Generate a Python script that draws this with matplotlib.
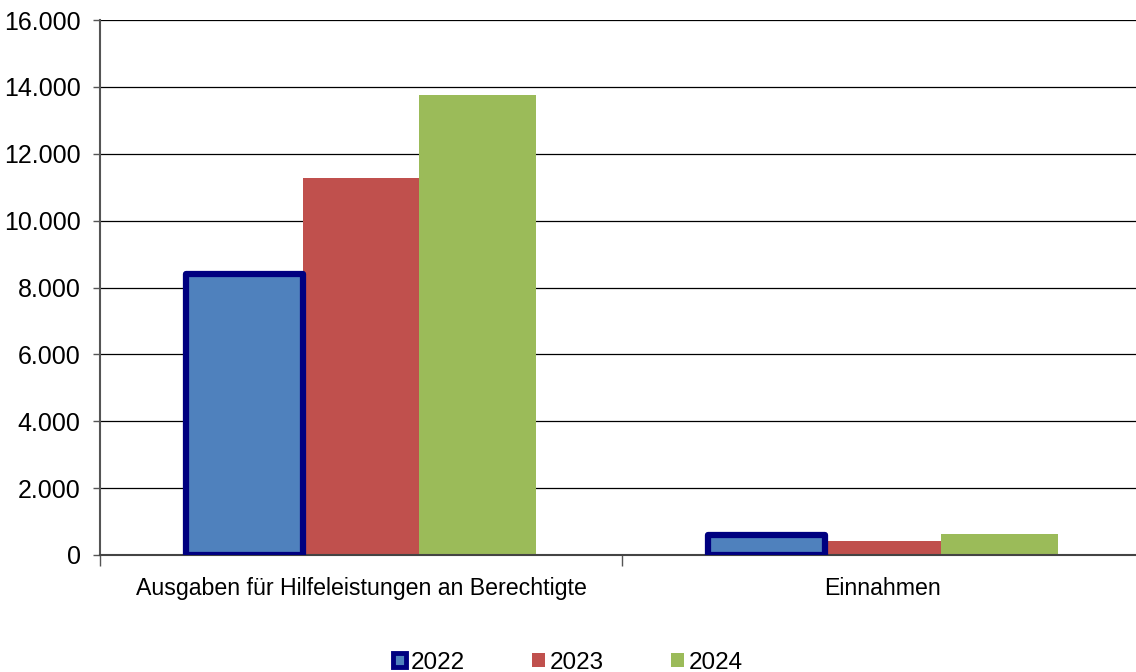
import matplotlib
matplotlib.use("Agg")
import matplotlib.pyplot as plt
import numpy as np
from matplotlib.patches import Patch
from matplotlib.ticker import FuncFormatter

categories = ["Ausgaben für Hilfeleistungen an Berechtigte", "Einnahmen"]
series_names = ["2022", "2023", "2024"]
values_2022 = [8400, 600]
values_2023 = [11260, 420]
values_2024 = [13760, 620]
yticks = [0, 2000, 4000, 6000, 8000, 10000, 12000, 14000, 16000]

colors = ["#4F81BD", "#C0504D", "#9BBB59"]
edge_2022 = "#000080"

plt.rcParams['font.family'] = ['Liberation Sans', 'DejaVu Sans']

fig = plt.figure(figsize=(11.36, 6.72), dpi=100)
ax = fig.add_axes([100/1136, (672-555)/672, 1044/1136, (555-20)/672])

x = np.arange(len(categories))
w = 0.223
series = [values_2022, values_2023, values_2024]
for i, vals in enumerate(series):
    pos = x + (i - 1) * w
    if i == 0:
        ax.bar(pos, vals, width=w, color=colors[i], edgecolor=edge_2022,
               linewidth=4.5, zorder=3, joinstyle='round')
    else:
        ax.bar(pos, vals, width=w, color=colors[i], edgecolor='none', zorder=2)

ax.set_xlim(-0.5, 1.5)
ax.set_ylim(0, 16000)
ax.set_yticks(yticks)
ax.yaxis.set_major_formatter(FuncFormatter(lambda v, p: f"{int(v):,}".replace(",", ".")))
ax.yaxis.grid(True, color="black", linewidth=0.9, zorder=0)
ax.set_axisbelow(True)

ax.set_xticks([-0.5, 0.5, 1.5], minor=False)
ax.set_xticklabels([])
ax.set_xticks(x, minor=True)
ax.set_xticklabels(categories, minor=True)
ax.tick_params(axis='x', which='minor', length=0, pad=16, labelsize=16.7)
ax.tick_params(axis='x', which='major', length=8, color="#555555", width=1)
ax.tick_params(axis='y', length=5, color="#555555", width=1, labelsize=18, pad=9)

for s in ["top", "right"]:
    ax.spines[s].set_visible(False)
ax.spines["left"].set_color("#555555")
ax.spines["left"].set_linewidth(1.5)
ax.spines["bottom"].set_color("#444444")
ax.spines["bottom"].set_linewidth(1.5)

handles = [
    Patch(facecolor=colors[0], edgecolor=edge_2022, linewidth=3.5),
    Patch(facecolor=colors[1], edgecolor='none'),
    Patch(facecolor=colors[2], edgecolor='none'),
]
fig.legend(handles, series_names, loc='lower center', bbox_to_anchor=(0.5, -0.035),
           ncol=3, frameon=False, fontsize=17.5, handlelength=0.55, handleheight=0.55,
           handletextpad=0.2, columnspacing=2.75)

fig.savefig("out.png", dpi=100)
